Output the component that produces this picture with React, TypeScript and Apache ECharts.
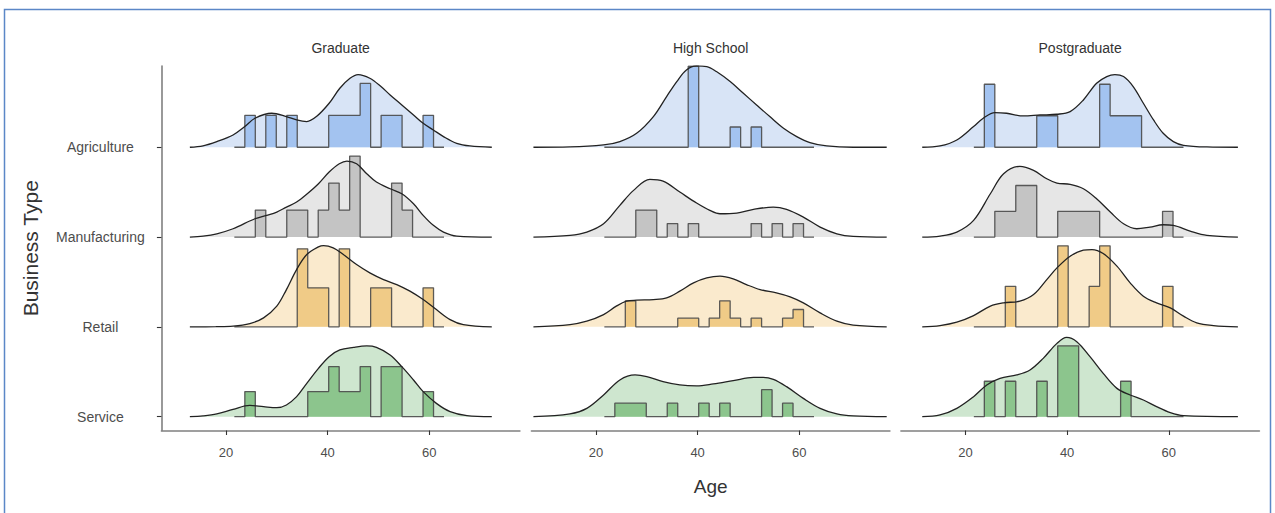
import React, { useEffect, useRef } from 'react';
import * as echarts from 'echarts';

// ---------- data ----------
const panels = ['Graduate', 'High School', 'Postgraduate'];
const businessTypes = ['Agriculture', 'Manufacturing', 'Retail', 'Service'];
const ageTicks = [20, 40, 60];
const rowTicks = [1, 2, 3, 4];

// histogram bins (shared by every ridge)
const binStart = 21.65;
const binWidth = 2.0625;

// histogram counts per bin (20 bins)
const histGradAgri = [0, 1, 0, 1, 0, 1, 0, 0, 0, 1, 1, 1, 2, 0, 1, 1, 0, 0, 1, 0];
const histGradManu = [0, 0, 1, 0, 0, 1, 1, 0, 1, 2, 1, 3, 0, 0, 0, 2, 1, 0, 0, 0];
const histGradRetail = [0, 0, 0, 0, 0, 0, 2, 1, 1, 0, 2, 0, 0, 1, 1, 0, 0, 0, 1, 0];
const histGradService = [0, 1, 0, 0, 0, 0, 0, 1, 1, 2, 1, 1, 2, 0, 2, 2, 0, 0, 1, 0];

const histHsAgri = [0, 0, 0, 0, 0, 0, 0, 0, 4, 0, 0, 0, 1, 0, 1, 0, 0, 0, 0, 0];
const histHsManu = [0, 0, 0, 2, 2, 0, 1, 0, 1, 0, 0, 0, 0, 0, 1, 0, 1, 0, 1, 0];
const histHsRetail = [0, 0, 3, 0, 0, 0, 0, 1, 1, 0, 1, 3, 1, 0, 1, 0, 0, 1, 2, 0];
const histHsService = [0, 1, 1, 1, 0, 0, 1, 0, 0, 1, 0, 1, 0, 0, 0, 2, 0, 1, 0, 0];

const histPgAgri = [0, 2, 0, 0, 0, 0, 1, 1, 0, 0, 0, 0, 2, 1, 1, 1, 0, 0, 0, 0];
const histPgManu = [0, 0, 1, 1, 2, 2, 0, 0, 1, 1, 1, 1, 0, 0, 0, 0, 0, 0, 1, 0];
const histPgRetail = [0, 0, 0, 1, 0, 0, 0, 0, 2, 0, 0, 1, 2, 0, 0, 0, 0, 0, 1, 0];
const histPgService = [0, 1, 0, 1, 0, 0, 1, 0, 2, 2, 0, 0, 0, 0, 1, 0, 0, 0, 0, 0];

// density curves: [age, scaled density]
const densGradAgri = [[12.9, 0], [15.5, 1.5], [18.2, 5.7], [21.4, 12.3], [23.7, 20.7], [25.7, 29], [29, 34], [31.9, 30.7], [33.9, 27.3], [35.9, 25.7], [37.8, 30.7], [40.3, 44], [42.4, 59], [44.4, 69], [46, 72.7], [48.3, 69], [50.5, 60.7], [52.3, 52.3], [54.6, 42.3], [56.9, 32.3], [58.8, 24], [60.8, 17.3], [62.8, 10.7], [65.4, 4], [68, 1.3], [72.3, 0]];
const densGradManu = [[12.9, 0], [15.5, 1], [18.2, 3.3], [21.4, 8.3], [25.7, 18.3], [28, 21.7], [30, 25], [31.9, 30], [33.9, 35], [36, 43.3], [38.2, 53.3], [40.3, 65], [42.3, 73.3], [43.8, 76], [45.7, 73.3], [47.7, 63.3], [49.6, 55], [52.3, 48.3], [54.6, 43.3], [56.9, 33.3], [58.8, 21.7], [60.8, 11.7], [62.8, 5], [65.4, 1], [72.3, 0]];
const densGradRetail = [[12.9, 0], [18, 0.2], [21.4, 0.7], [24.7, 3.3], [27.4, 9], [30, 20.7], [31.9, 37.3], [33.9, 57.3], [35.9, 72.3], [38.2, 80], [39.2, 81.3], [41.1, 79], [43.1, 72.3], [45.7, 62.3], [48.3, 54], [51, 47.3], [53.6, 42.3], [56.2, 35.7], [58.8, 27.3], [61.4, 17.3], [64.1, 7.3], [66.7, 2.3], [72.3, 0]];
const densGradService = [[12.9, 0], [15.5, 0.8], [18.2, 2.7], [21.4, 7.3], [24.7, 11.3], [27.4, 10], [30, 9], [31.9, 11.7], [33.9, 20], [35.9, 33.3], [38.2, 48.3], [40.3, 60], [42.4, 66.7], [45.1, 69.3], [47.7, 70.7], [49.6, 69.3], [52.3, 61.7], [54.6, 50], [56.9, 36.7], [58.8, 25], [61.4, 13.3], [64.1, 5], [67.4, 1], [72.3, 0]];

const densHsAgri = [[7.7, 0], [14.9, 0.3], [21.5, 2.3], [24.7, 5.7], [28, 14], [31.3, 30.7], [33.9, 50.7], [35.9, 65.7], [37.8, 77.3], [39.8, 81.3], [41.8, 80.7], [43.7, 75.7], [46.4, 65.7], [49, 54], [51.6, 42.3], [54.2, 30.7], [56.9, 19], [59.5, 10.7], [62.1, 4.7], [65.4, 1.3], [70.6, 0], [77.2, 0]];
const densHsManu = [[7.7, 0], [14.9, 1.7], [18.2, 5], [21.5, 13.3], [24.7, 31.7], [27.4, 46.7], [30.6, 57.7], [33.2, 56], [36.5, 45], [39.8, 34], [42.4, 26.7], [44.4, 23.3], [47.7, 24], [51, 27.7], [54.9, 30], [57.5, 27.7], [60.8, 20], [64.1, 10], [67.4, 3.3], [70.6, 0.7], [77.2, 0]];
const densHsRetail = [[7.7, 0], [14.9, 2.3], [18.2, 5.7], [21.5, 12.3], [24, 20.7], [26, 25.7], [28, 26.7], [31.3, 27.3], [33.9, 29], [36.5, 35.7], [39.2, 44], [41.8, 49], [44.4, 50.7], [47, 48], [49.6, 42.3], [52.3, 37.3], [55.5, 34], [58.2, 30], [60.8, 24], [64.1, 14], [67.4, 5.7], [70.6, 1.7], [77.2, 0]];
const densHsService = [[7.7, 0], [14.9, 2.7], [18.2, 8.3], [21.5, 21.7], [24.7, 36.7], [27.7, 41.7], [30, 40], [33.2, 35], [36.5, 31.7], [39.8, 30.7], [43.1, 32.7], [47, 36], [51, 39.3], [52.9, 39.3], [54.9, 37.3], [57.5, 30], [60.8, 18.3], [64.1, 8.3], [67.4, 2.7], [70.6, 0.7], [77.2, 0]];

const densPgAgri = [[11.5, 0], [15, 1.3], [18.3, 7.3], [21.6, 20.7], [23.5, 29], [25.8, 34.7], [28.1, 34], [31.4, 31.3], [34.7, 32.3], [38, 33], [40.6, 35.7], [43.2, 47.3], [45.8, 64], [47.8, 70.7], [49.4, 72.7], [51.1, 70.7], [53, 60.7], [55, 44], [57, 27.3], [58.9, 14], [60.9, 5.7], [62.9, 2], [67.5, 0.3], [73.6, 0]];
const densPgManu = [[11.5, 0], [15, 1], [18.3, 5], [21.6, 16.7], [24.9, 43.3], [27.5, 63.3], [30.7, 70.7], [33.4, 66.7], [36, 58.3], [38, 54], [40.6, 52.7], [43.2, 48.3], [45.8, 38.3], [48.5, 25], [51.1, 13.3], [53.7, 8.3], [56.3, 10], [58.9, 12.3], [60.9, 11.7], [64.2, 6], [67.5, 1.7], [73.6, 0]];
const densPgRetail = [[11.5, 0], [15, 1.3], [18.3, 4.7], [21.6, 11.3], [24.9, 20.7], [27.5, 24], [30.7, 25.7], [33.4, 32.3], [36, 47.3], [38, 59], [40.6, 70.7], [43.2, 76.7], [44.9, 77.3], [47.1, 73.3], [49.8, 60.7], [52.4, 44], [55, 30.7], [57.6, 24], [60.3, 19], [62.9, 10.7], [65.5, 4], [68.8, 1.3], [73.6, 0]];
const densPgService = [[11.5, 0], [15, 1.7], [18.3, 8.3], [21.6, 20], [24.2, 31.7], [26.8, 38.3], [30.1, 41.7], [32.7, 46.7], [35.3, 58.3], [38, 73.3], [39.9, 79.3], [41.9, 75], [44.5, 60], [47.1, 43.3], [49.8, 28.3], [52.4, 21.7], [55, 16.7], [57.6, 10], [60.3, 4], [62.9, 1], [73.6, 0]];

const histTable = [
  [histGradAgri, histGradManu, histGradRetail, histGradService],
  [histHsAgri, histHsManu, histHsRetail, histHsService],
  [histPgAgri, histPgManu, histPgRetail, histPgService],
];
const densTable = [
  [densGradAgri, densGradManu, densGradRetail, densGradService],
  [densHsAgri, densHsManu, densHsRetail, densHsService],
  [densPgAgri, densPgManu, densPgRetail, densPgService],
];

// ---------- styling / layout ----------
const FONT = "'Liberation Sans', Arial, Helvetica, sans-serif";
const densFill = ['#d8e4f6', '#e6e6e6', '#faeacd', '#cee6cf'];
const histFill = ['#a3c3f0', '#c4c4c4', '#f0cb87', '#8cc58d'];
const DENS_UNIT = 89.8; // density units per ridge row
const RIDGE_MAX = 0.902; // tallest histogram bar in a panel, in rows
const gridLefts = [161.4, 531.4, 900.9];
const gridWidth = 358.5;
const gridTop = 66;
const gridHeight = 364.5;
const X_MIN = 7.3;
const X_MAX = 77.83;
const Y_MIN = 0.846;
const Y_MAX = 4.905;

function buildOption() {
  const grids: any[] = [];
  const xAxes: any[] = [];
  const yAxes: any[] = [];
  const series: any[] = [];

  panels.forEach((panel, p) => {
    grids.push({
      left: gridLefts[p], top: gridTop, width: gridWidth, height: gridHeight,
      containLabel: false, outerBoundsMode: 'none',
    });
    xAxes.push({
      gridIndex: p, type: 'value', min: X_MIN, max: X_MAX,
      axisLine: { show: true, lineStyle: { color: '#808080', width: 1.6 } },
      axisTick: { show: true, customValues: ageTicks, length: 4.5, lineStyle: { color: '#333333', width: 1.1 } },
      axisLabel: { show: true, customValues: ageTicks, margin: 15, fontSize: 13, color: '#4d4d4d', fontFamily: FONT },
      splitLine: { show: false },
      ...(p === 1 ? {
        name: 'Age', nameLocation: 'middle', nameGap: 46,
        nameTextStyle: { fontSize: 19, color: '#333333', fontFamily: FONT },
      } : {}),
    });
    yAxes.push(p === 0 ? {
      gridIndex: p, type: 'value', min: Y_MIN, max: Y_MAX,
      axisLine: { show: true, lineStyle: { color: '#808080', width: 1.6 } },
      axisTick: { show: true, customValues: rowTicks, length: 4.5, lineStyle: { color: '#333333', width: 1.1 } },
      axisLabel: {
        show: true, customValues: rowTicks, align: 'center', margin: 61,
        fontSize: 14, color: '#4d4d4d', fontFamily: FONT,
        formatter: (v: number) => businessTypes[4 - Math.round(v)],
      },
      splitLine: { show: false },
      name: 'Business Type', nameLocation: 'middle', nameGap: 120, nameRotate: 90,
      nameTextStyle: { fontSize: 21, color: '#333333', fontFamily: FONT },
    } : {
      gridIndex: p, type: 'value', min: Y_MIN, max: Y_MAX, show: false,
      splitLine: { show: false },
    });

    // panel normalisation of histogram density (count / n)
    const rel = histTable[p].map((counts) => {
      const n = counts.reduce((a, b) => a + b, 0);
      return counts.map((c) => c / n);
    });
    const maxRel = Math.max(...rel.map((r) => Math.max(...r)));

    businessTypes.forEach((bt, r) => {
      const base = 4 - r;
      const dens = densTable[p][r].map(([x, h]) => [x, base + h / DENS_UNIT]);
      const zb = 2 + r * 3;

      series.push({
        type: 'line', name: `${panel} ${bt} density fill`, xAxisIndex: p, yAxisIndex: p,
        data: dens, smooth: 0.35, symbol: 'none', silent: true, z: zb,
        lineStyle: { opacity: 0, width: 0 },
        areaStyle: { color: densFill[r], opacity: 1, origin: base },
      });

      const pts: number[][] = [[binStart, base]];
      rel[r].forEach((v, k) => {
        const y = base + (v / maxRel) * RIDGE_MAX;
        const x0 = binStart + k * binWidth;
        pts.push([x0, y], [x0 + binWidth, y]);
      });
      pts.push([binStart + rel[r].length * binWidth, base]);
      series.push({
        type: 'line', name: `${panel} ${bt} histogram`, xAxisIndex: p, yAxisIndex: p,
        data: pts, smooth: false, symbol: 'none', silent: true, z: zb + 1,
        lineStyle: { color: '#4a4a4a', width: 1.3, opacity: 0.9 },
        areaStyle: { color: histFill[r], opacity: 1, origin: base },
      });

      series.push({
        type: 'line', name: `${panel} ${bt} density`, xAxisIndex: p, yAxisIndex: p,
        data: dens, smooth: 0.35, symbol: 'none', silent: true, z: zb + 2,
        lineStyle: { color: '#222222', width: 1.3 },
      });
    });
  });

  const graphic: any[] = [
    {
      type: 'rect', silent: true, z: 0,
      shape: { x: 4.5, y: 9.5, width: 1266, height: 520 },
      style: { fill: 'none', stroke: '#5b87c7', lineWidth: 1.5 },
    },
    ...panels.map((panel, p) => ({
      type: 'text', silent: true,
      x: gridLefts[p] + gridWidth / 2, y: 47.5,
      style: {
        text: panel, align: 'center', verticalAlign: 'middle', textAlign: 'center',
        textVerticalAlign: 'middle', fontSize: 14, fontFamily: FONT, fill: '#333333',
      },
    })),
  ];

  return {
    animation: false,
    backgroundColor: '#ffffff',
    textStyle: { fontFamily: FONT },
    grid: grids,
    xAxis: xAxes,
    yAxis: yAxes,
    series,
    graphic,
  };
}

export default function App() {
  const ref = useRef<HTMLDivElement>(null);
  useEffect(() => {
    if (!ref.current) return;
    const chart = echarts.init(ref.current, undefined, { renderer: 'svg' });
    chart.setOption(buildOption());
    return () => chart.dispose();
  }, []);
  return (
    <div
      ref={ref}
      style={{ position: 'absolute', left: 0, top: 0, width: 1275, height: 513, background: '#fff' }}
    />
  );
}
